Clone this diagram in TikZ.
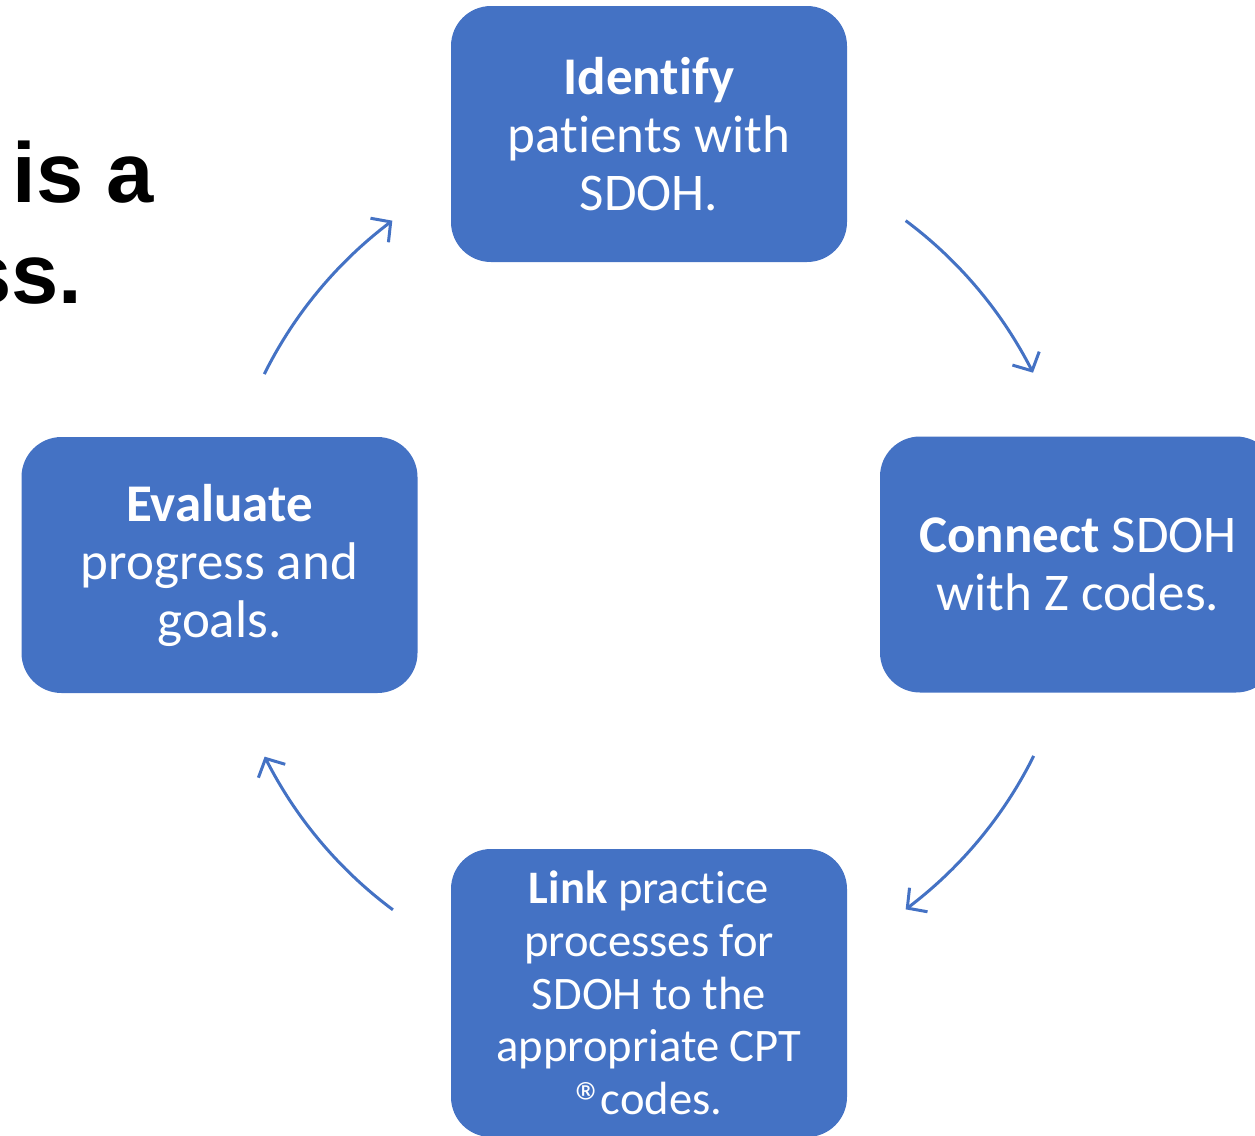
\documentclass[tikz,border=0pt]{standalone}
\usepackage{fontspec}
\setmainfont{Carlito}[Ligatures=NoCommon]
\newfontfamily\titlefont{Liberation Sans}
\usetikzlibrary{arrows.meta,bending}
\definecolor{stepblue}{HTML}{4472C4}
\newcommand{\regmark}{\raisebox{-4pt}[0pt][0pt]{\fontsize{29}{29}\selectfont\textregistered}\kern-2pt}
\begin{document}
\begin{tikzpicture}[x=0.5pt,y=-0.5pt,
  stepbox/.style={rounded corners=20pt, fill=stepblue, text=white, align=center,
    minimum width=198pt, minimum height=128pt, inner sep=0pt,
    font=\fontsize{26.5}{29}\selectfont},
  cyc/.style={draw=stepblue, line width=1.5pt,
    -{Straight Barb[length=7pt,width=15pt,flex]}},
  titletext/.style={inner sep=0pt, font=\titlefont\bfseries\fontsize{42.5}{50}\selectfont}]
\useasboundingbox (0,0) rectangle (1255,1136);
\clip (0,0) rectangle (1255,1136);

% heading fragment on the left
\node[titletext, anchor=base west] (headA) at (12,202) {is a};
\node[titletext, anchor=base east] (headB) at (83,303) {ss.};

% the four steps of the cycle
\node[stepbox] (identify) at (649,134) {\textbf{Identify}\\patients with\\SDOH.};
\node[stepbox] (connect) at (1078,564.5) {\textbf{Connect} SDOH\\with Z codes.};
\node[stepbox] (evaluate) at (219.5,565) {\textbf{Evaluate}\\progress and\\goals.};
\node[stepbox, minimum height=144pt, font=\fontsize{23.3}{26.3}\selectfont] (link) at (649,993)
  {\textbf{Link} practice\\processes for\\SDOH to the\\appropriate CPT\\\regmark codes.};

% circular arrows between the steps
\coordinate (ctr) at (649,565);
\coordinate (arcA) at ([shift={(153.6:214.75pt)}]ctr);
\coordinate (arcB) at ([shift={(53.3:214.75pt)}]ctr);
\coordinate (arcC) at ([shift={(-26.4:214.75pt)}]ctr);
\coordinate (arcD) at ([shift={(-126.6:214.75pt)}]ctr);
\draw[cyc] (arcA) arc[start angle=153.6, end angle=126.7, radius=214.75pt];
\draw[cyc] (arcB) arc[start angle=53.3, end angle=26.6, radius=214.75pt];
\draw[cyc] (arcC) arc[start angle=-26.4, end angle=-53.3, radius=214.75pt];
\draw[cyc] (arcD) arc[start angle=-126.6, end angle=-153.5, radius=214.75pt];
\end{tikzpicture}
\end{document}
